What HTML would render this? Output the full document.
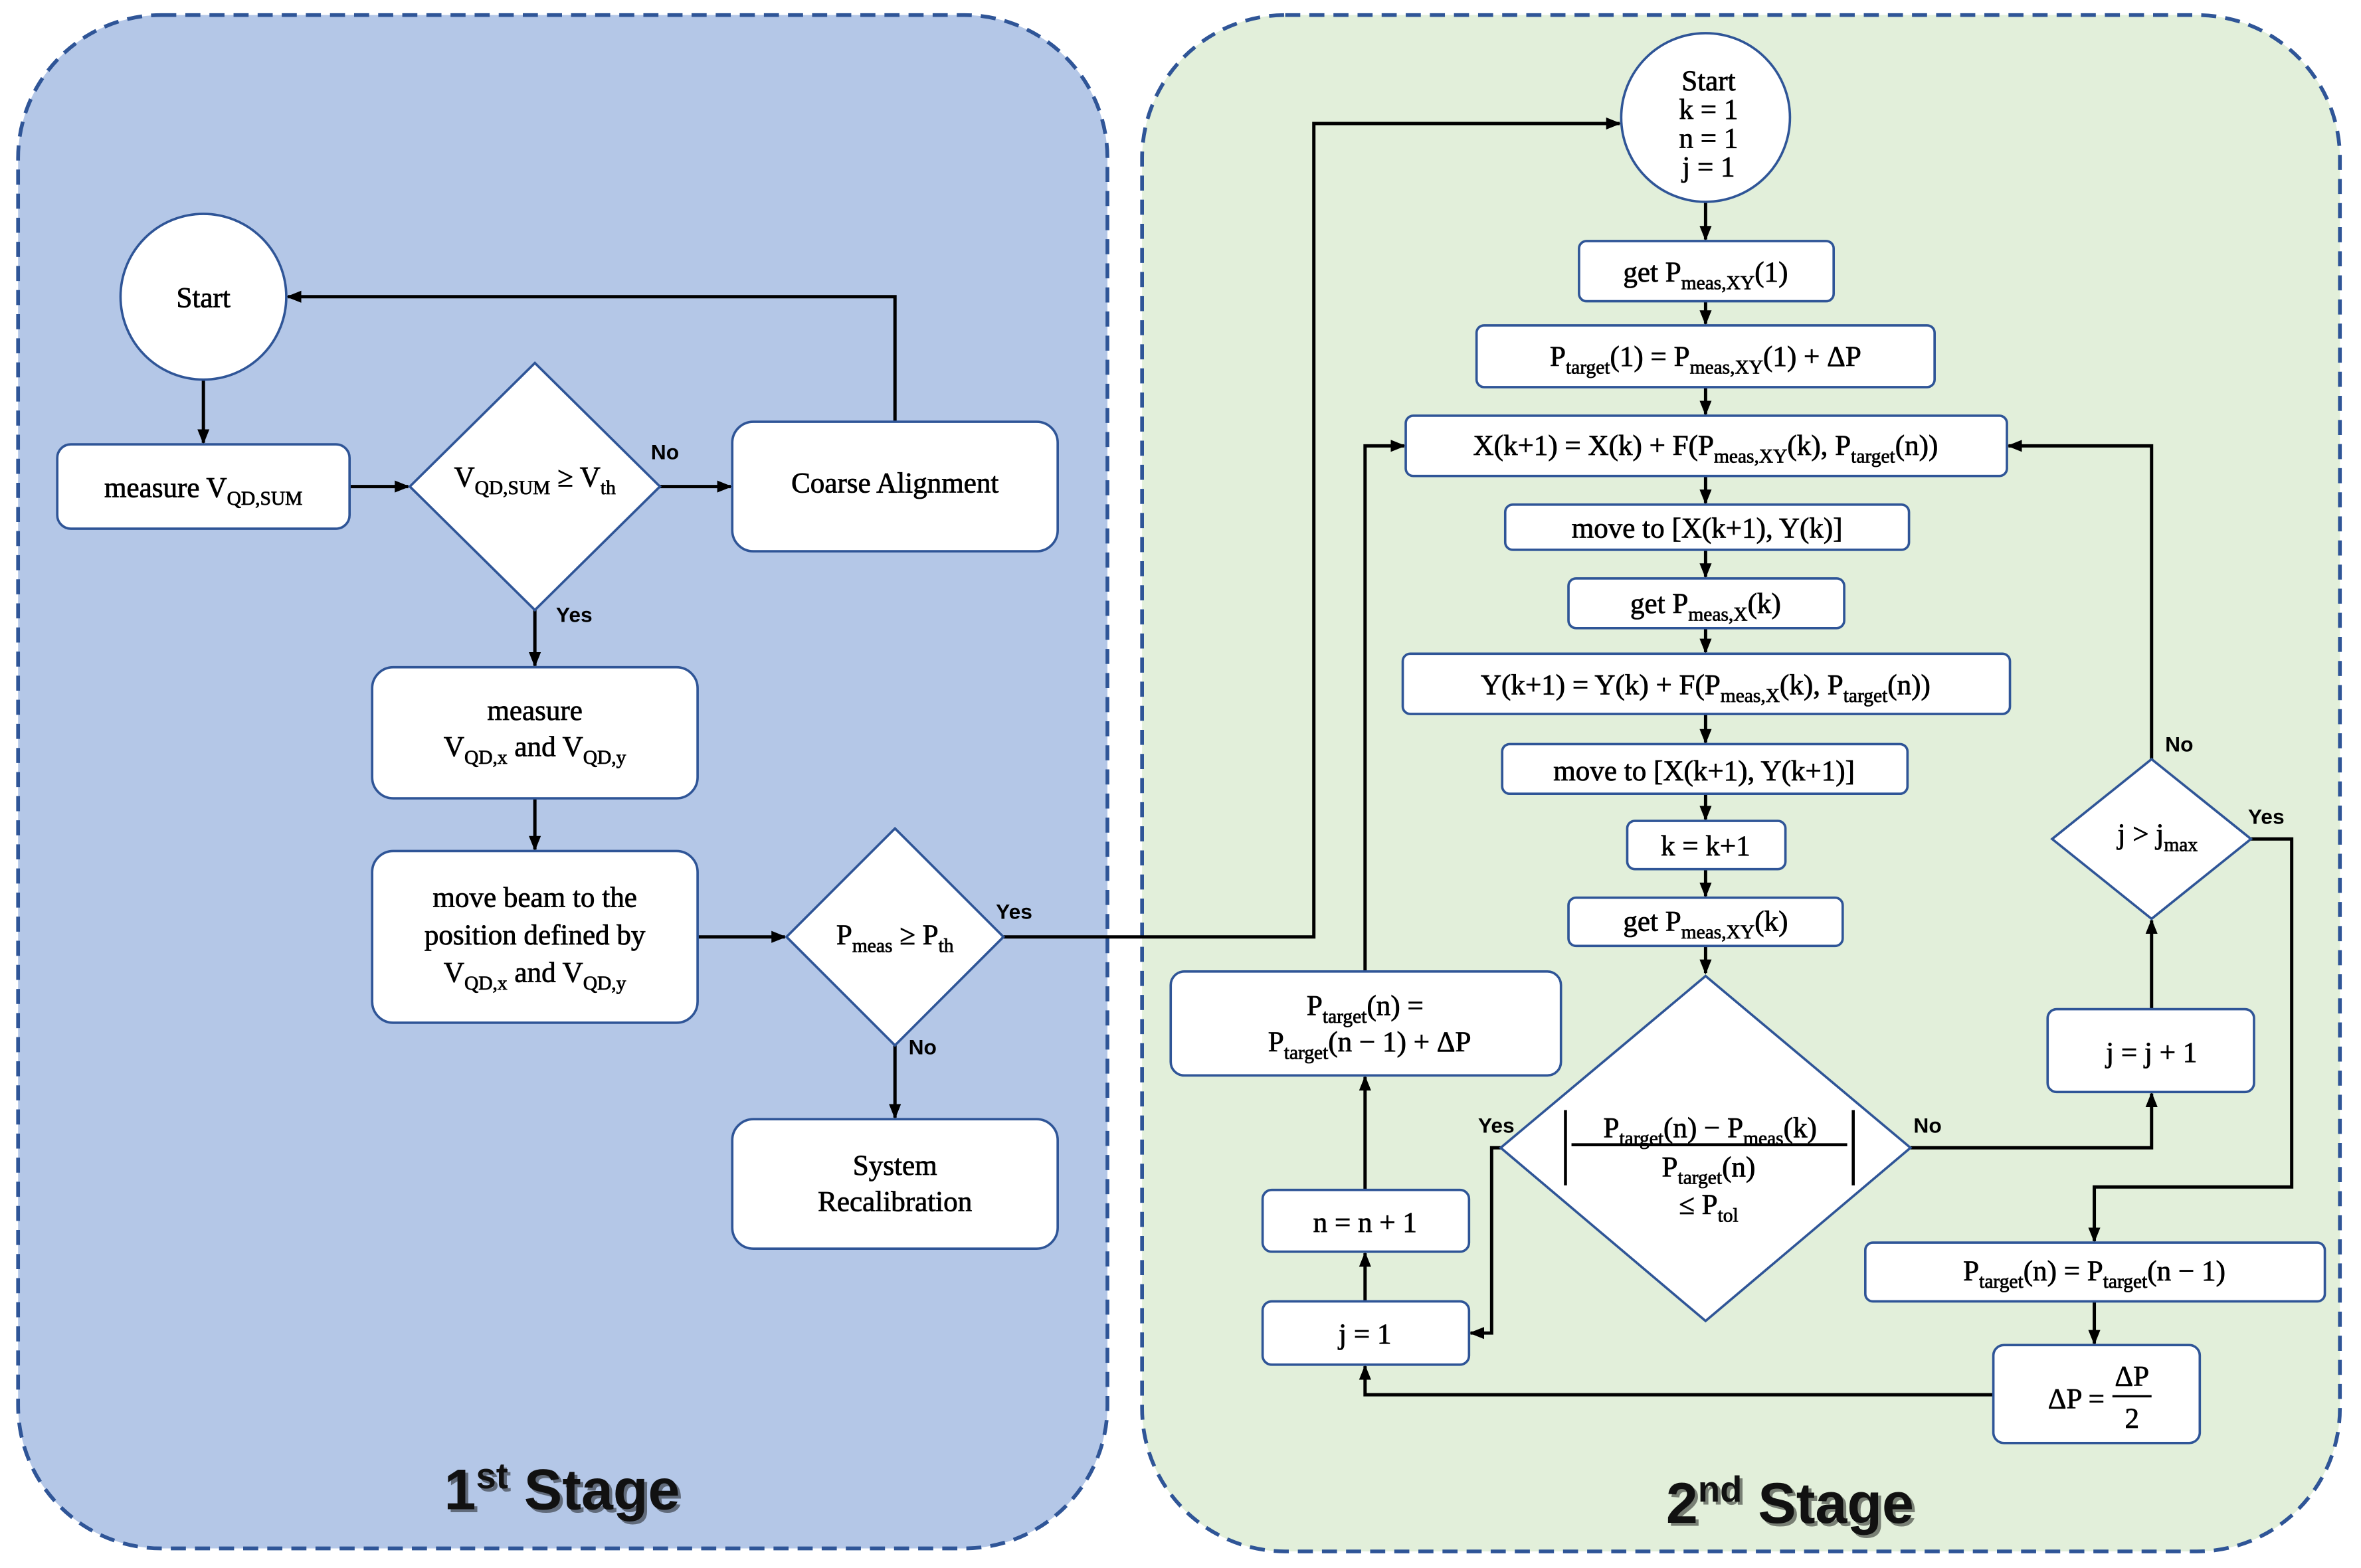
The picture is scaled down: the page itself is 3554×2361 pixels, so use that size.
<!DOCTYPE html>
<html><head><meta charset="utf-8"><style>
html,body{margin:0;padding:0;background:#fff;}
svg{display:block}
text{font-family:"Liberation Serif",serif;font-size:19px;fill:#000;stroke:#000;stroke-width:0.35;}
.l{font-family:"Liberation Sans",sans-serif;font-weight:bold;font-size:14px;stroke-width:0;}
.st{font-family:"Liberation Sans",sans-serif;font-weight:bold;font-size:38px;fill:#111;stroke-width:0;}
.n{fill:#fff;stroke:#2f5597;stroke-width:1.6;}
.c{fill:none;stroke:#000;stroke-width:2.2;}
</style></head><body>
<svg width="3554" height="2361" viewBox="0 0 1567 1041" preserveAspectRatio="none" xmlns="http://www.w3.org/2000/svg">
<defs><marker id="a" markerWidth="10" markerHeight="10" refX="9" refY="5" orient="auto" markerUnits="userSpaceOnUse"><path d="M0,1 L10,5 L0,9 z" fill="#000"/></marker></defs>
<rect x="12" y="10" width="723" height="1018" rx="95" fill="#b4c7e7" stroke="#2f5597" stroke-width="2.5" stroke-dasharray="10,6"/>
<rect x="758" y="10" width="795" height="1020" rx="95" fill="#e2efda" stroke="#2f5597" stroke-width="2.5" stroke-dasharray="10,6"/>

<g class="c" marker-end="url(#a)">
<path d="M135,252 V294"/>
<path d="M232,323 H271"/>
<path d="M438,323 H485"/>
<path d="M594,280 V197 H191"/>
<path d="M355,405 V442"/>
<path d="M355,530 V564"/>
<path d="M463,622 H521"/>
<path d="M594,694 V742"/>
<path d="M666,622 H872 V82 H1075"/>
<path d="M1132,134 V159"/>
<path d="M1132,200 V215"/>
<path d="M1132,257 V275"/>
<path d="M1132,316 V334"/>
<path d="M1132,365 V383"/>
<path d="M1132,417 V433"/>
<path d="M1132,474 V493"/>
<path d="M1132,527 V544"/>
<path d="M1132,577 V595"/>
<path d="M1132,628 V646"/>
<path d="M1268,762 H1428 V726"/>
<path d="M1428,670 V611"/>
<path d="M1428,504 V296 H1333"/>
<path d="M1494,557 H1521 V788 H1390 V824"/>
<path d="M1390,864 V892"/>
<path d="M1323,926 H906 V907"/>
<path d="M996,762 H990 V885 H976"/>
<path d="M906,864 V832"/>
<path d="M906,790 V715"/>
<path d="M906,645 V296 H932"/>
</g>

<circle class="n" cx="135" cy="197" r="55"/>
<text x="135" y="204" text-anchor="middle">Start</text>
<rect class="n" x="38" y="295" width="194" height="56" rx="9"/>
<text x="135" y="330" text-anchor="middle">measure V<tspan font-size="13" dy="5">QD,SUM</tspan></text>
<path class="n" d="M355,241 L438,323 L355,405 L272,323 Z"/>
<text x="355" y="323" text-anchor="middle">V<tspan font-size="13" dy="5">QD,SUM</tspan><tspan dy="-5"> ≥ V</tspan><tspan font-size="13" dy="5">th</tspan></text>
<rect class="n" x="486" y="280" width="216" height="86" rx="14"/>
<text x="594" y="327" text-anchor="middle">Coarse Alignment</text>
<rect class="n" x="247" y="443" width="216" height="87" rx="14"/>
<text x="355" y="478" text-anchor="middle">measure</text>
<text x="355" y="502" text-anchor="middle">V<tspan font-size="13" dy="5">QD,x</tspan><tspan dy="-5"> and V</tspan><tspan font-size="13" dy="5">QD,y</tspan></text>
<rect class="n" x="247" y="565" width="216" height="114" rx="14"/>
<text x="355" y="602" text-anchor="middle">move beam to the</text>
<text x="355" y="627" text-anchor="middle">position defined by</text>
<text x="355" y="652" text-anchor="middle">V<tspan font-size="13" dy="5">QD,x</tspan><tspan dy="-5"> and V</tspan><tspan font-size="13" dy="5">QD,y</tspan></text>
<path class="n" d="M594,550 L666,622 L594,694 L522,622 Z"/>
<text x="594" y="627" text-anchor="middle">P<tspan font-size="13" dy="5">meas</tspan><tspan dy="-5"> ≥ P</tspan><tspan font-size="13" dy="5">th</tspan></text>
<rect class="n" x="486" y="743" width="216" height="86" rx="14"/>
<text x="594" y="780" text-anchor="middle">System</text>
<text x="594" y="804" text-anchor="middle">Recalibration</text>
<text class="l" x="432" y="305">No</text>
<text class="l" x="369" y="413">Yes</text>
<text class="l" x="603" y="700">No</text>
<text class="l" x="661" y="610">Yes</text>
<text class="st" x="375" y="1004" text-anchor="middle" fill="#888" opacity="0.5">1<tspan font-size="24" dy="-14">st</tspan><tspan dy="14"> Stage</tspan></text>
<text class="st" x="373" y="1002" text-anchor="middle">1<tspan font-size="24" dy="-14">st</tspan><tspan dy="14"> Stage</tspan></text>

<circle class="n" cx="1132" cy="78" r="56"/>
<text x="1134" y="60" text-anchor="middle">Start</text>
<text x="1134" y="79" text-anchor="middle" font-size="15">k = 1</text>
<text x="1134" y="98" text-anchor="middle" font-size="15">n = 1</text>
<text x="1134" y="117" text-anchor="middle" font-size="15">j = 1</text>
<rect class="n" x="1048" y="160" width="169" height="40" rx="5"/>
<text x="1132" y="187" text-anchor="middle">get P<tspan font-size="13" dy="5">meas,XY</tspan><tspan dy="-5">(1)</tspan></text>
<rect class="n" x="980" y="216" width="304" height="41" rx="5"/>
<text x="1132" y="243" text-anchor="middle">P<tspan font-size="13" dy="5">target</tspan><tspan dy="-5">(1) = P</tspan><tspan font-size="13" dy="5">meas,XY</tspan><tspan dy="-5">(1) + ΔP</tspan></text>
<rect class="n" x="933" y="276" width="399" height="40" rx="5"/>
<text x="1132" y="302" text-anchor="middle">X(k+1) = X(k) + F(P<tspan font-size="13" dy="5">meas,XY</tspan><tspan dy="-5">(k), P</tspan><tspan font-size="13" dy="5">target</tspan><tspan dy="-5">(n))</tspan></text>
<rect class="n" x="999" y="335" width="268" height="30" rx="5"/>
<text x="1133" y="357" text-anchor="middle">move to [X(k+1), Y(k)]</text>
<rect class="n" x="1041" y="384" width="183" height="33" rx="5"/>
<text x="1132" y="407" text-anchor="middle">get P<tspan font-size="13" dy="5">meas,X</tspan><tspan dy="-5">(k)</tspan></text>
<rect class="n" x="931" y="434" width="403" height="40" rx="5"/>
<text x="1132" y="461" text-anchor="middle">Y(k+1) = Y(k) + F(P<tspan font-size="13" dy="5">meas,X</tspan><tspan dy="-5">(k), P</tspan><tspan font-size="13" dy="5">target</tspan><tspan dy="-5">(n))</tspan></text>
<rect class="n" x="997" y="494" width="269" height="33" rx="5"/>
<text x="1131" y="518" text-anchor="middle">move to [X(k+1), Y(k+1)]</text>
<rect class="n" x="1080" y="545" width="105" height="32" rx="5"/>
<text x="1132" y="568" text-anchor="middle">k = k+1</text>
<rect class="n" x="1041" y="596" width="182" height="32" rx="5"/>
<text x="1132" y="618" text-anchor="middle">get P<tspan font-size="13" dy="5">meas,XY</tspan><tspan dy="-5">(k)</tspan></text>
<path class="n" d="M1132,648 L1268,762 L1132,877 L996,762 Z"/>
<path d="M1039,737 V787 M1230,737 V787 M1043,760 H1226" stroke="#000" stroke-width="2" fill="none"/>
<text x="1135" y="755" text-anchor="middle">P<tspan font-size="13" dy="5">target</tspan><tspan dy="-5">(n)  − P</tspan><tspan font-size="13" dy="5">meas</tspan><tspan dy="-5">(k)</tspan></text>
<text x="1134" y="781" text-anchor="middle">P<tspan font-size="13" dy="5">target</tspan><tspan dy="-5">(n)</tspan></text>
<text x="1134" y="806" text-anchor="middle" font-size="17">≤ P<tspan font-size="13" dy="5">tol</tspan></text>
<rect class="n" x="777" y="645" width="259" height="69" rx="9"/>
<text x="906" y="674" text-anchor="middle">P<tspan font-size="13" dy="5">target</tspan><tspan dy="-5">(n) =</tspan></text>
<text x="909" y="698" text-anchor="middle">P<tspan font-size="13" dy="5">target</tspan><tspan dy="-5">(n − 1) + ΔP</tspan></text>
<rect class="n" x="838" y="790" width="137" height="41" rx="6"/>
<text x="906" y="818" text-anchor="middle">n = n + 1</text>
<rect class="n" x="838" y="864" width="137" height="42" rx="6"/>
<text x="906" y="892" text-anchor="middle">j = 1</text>
<path class="n" d="M1428,504 L1494,557 L1428,610 L1362,557 Z"/>
<text x="1432" y="560" text-anchor="middle">j &gt; j<tspan font-size="13" dy="5">max</tspan></text>
<rect class="n" x="1359" y="670" width="137" height="55" rx="6"/>
<text x="1428" y="705" text-anchor="middle">j = j + 1</text>
<rect class="n" x="1238" y="825" width="305" height="39" rx="5"/>
<text x="1390" y="850" text-anchor="middle">P<tspan font-size="13" dy="5">target</tspan><tspan dy="-5">(n) = P</tspan><tspan font-size="13" dy="5">target</tspan><tspan dy="-5">(n − 1)</tspan></text>
<rect class="n" x="1323" y="893" width="137" height="65" rx="7"/>
<text x="1378" y="935" text-anchor="middle">ΔP =</text>
<text x="1415" y="920" text-anchor="middle">ΔP</text>
<path d="M1402,927 H1428" stroke="#000" stroke-width="1.5"/>
<text x="1415" y="948" text-anchor="middle">2</text>
<text class="l" x="981" y="752">Yes</text>
<text class="l" x="1270" y="752">No</text>
<text class="l" x="1437" y="499">No</text>
<text class="l" x="1492" y="547">Yes</text>
<text class="st" x="1190" y="1013" text-anchor="middle" fill="#888" opacity="0.5">2<tspan font-size="24" dy="-14">nd</tspan><tspan dy="14"> Stage</tspan></text>
<text class="st" x="1188" y="1011" text-anchor="middle">2<tspan font-size="24" dy="-14">nd</tspan><tspan dy="14"> Stage</tspan></text>
</svg>
</body></html>
